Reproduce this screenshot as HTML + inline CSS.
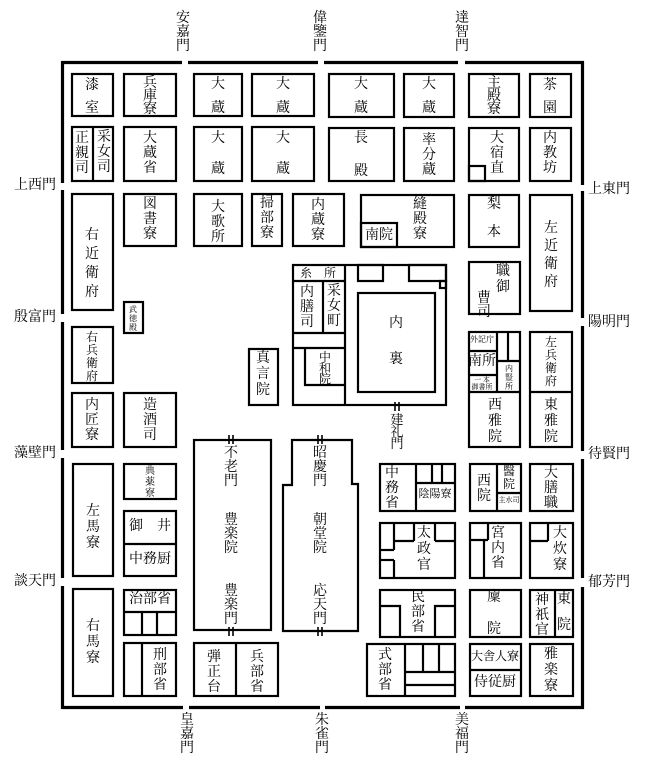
<!DOCTYPE html>
<html><head><meta charset="utf-8"><style>
html,body{margin:0;padding:0;background:#fff;}
body{width:647px;height:773px;position:relative;overflow:hidden;font-family:"Liberation Serif","Noto Serif CJK SC","Noto Sans CJK JP",serif;color:#000;}
svg{position:absolute;left:0;top:0;}
.v{position:absolute;width:24px;margin-left:-12px;text-align:center;font-size:14px;line-height:15px;}
.h{position:absolute;white-space:nowrap;transform:translateX(-50%);font-size:14px;line-height:14px;}
.g{position:absolute;white-space:nowrap;font-size:14px;line-height:14px;}
</style></head><body>
<svg width="647" height="773" viewBox="0 0 647 773">
<g stroke="#000" stroke-width="3.2" fill="none">
<line x1="62" y1="62.5" x2="182" y2="62.5"/><line x1="188" y1="62.5" x2="318" y2="62.5"/><line x1="324" y1="62.5" x2="458" y2="62.5"/><line x1="465" y1="62.5" x2="584" y2="62.5"/>
<line x1="62" y1="707.5" x2="183" y2="707.5"/><line x1="189" y1="707.5" x2="320" y2="707.5"/><line x1="325" y1="707.5" x2="460" y2="707.5"/><line x1="465" y1="707.5" x2="584" y2="707.5"/>
<line x1="62.5" y1="61" x2="62.5" y2="183"/><line x1="62.5" y1="190" x2="62.5" y2="314"/><line x1="62.5" y1="322" x2="62.5" y2="450"/><line x1="62.5" y1="458" x2="62.5" y2="578"/><line x1="62.5" y1="586" x2="62.5" y2="709"/>
<line x1="582.5" y1="61" x2="582.5" y2="185"/><line x1="582.5" y1="191" x2="582.5" y2="318"/><line x1="582.5" y1="326" x2="582.5" y2="451"/><line x1="582.5" y1="459" x2="582.5" y2="578"/><line x1="582.5" y1="587" x2="582.5" y2="709"/>
</g>
<g stroke="#000" stroke-width="2.2" fill="none">
<rect x="72" y="74" width="41" height="42"/><rect x="124" y="74" width="52" height="42"/><rect x="194" y="74" width="48" height="42"/><rect x="252" y="74" width="62" height="42"/><rect x="329" y="74" width="65" height="43"/><rect x="404" y="74" width="50" height="43"/><rect x="469" y="74" width="50" height="43"/><rect x="530" y="74" width="41" height="43"/>
<rect x="72" y="127" width="41" height="54"/><line x1="93" y1="127" x2="93" y2="181"/>
<rect x="124" y="127" width="52" height="54"/><rect x="194" y="127" width="48" height="54"/><rect x="252" y="127" width="62" height="54"/><rect x="329" y="128" width="65" height="53"/><rect x="404" y="128" width="50" height="53"/><rect x="469" y="128" width="50" height="53"/><rect x="469" y="166" width="16" height="15"/><rect x="530" y="128" width="41" height="53"/>
<rect x="72" y="194" width="41" height="116"/><rect x="124" y="194" width="52" height="52"/><rect x="194" y="194" width="48" height="52"/><rect x="252" y="194" width="30" height="52"/><rect x="293" y="194" width="51" height="52"/>
<rect x="361" y="195" width="93" height="52"/><rect x="361" y="223" width="36" height="24"/><rect x="469" y="195" width="50" height="52"/><rect x="530" y="195" width="42" height="116"/>
<rect x="124" y="302" width="19" height="31"/><rect x="72" y="327" width="41" height="56"/><rect x="72" y="393" width="41" height="54"/><rect x="124" y="393" width="52" height="54"/>
<rect x="293" y="265" width="153" height="140"/><line x1="345" y1="265" x2="345" y2="405"/><line x1="293" y1="281" x2="345" y2="281"/><line x1="293" y1="333" x2="345" y2="333"/><line x1="323" y1="281" x2="323" y2="333"/><line x1="293" y1="348" x2="345" y2="348"/><polyline points="305,348 305,385 345,385"/>
<rect x="358" y="265" width="25" height="16"/><rect x="409" y="265" width="37" height="16"/><rect x="440" y="281" width="6" height="7"/><rect x="358" y="293" width="77" height="99"/>
<rect x="249" y="349" width="29" height="56"/>
<rect x="469" y="262" width="51" height="52"/>
<rect x="469" y="332" width="51" height="115"/><line x1="497" y1="332" x2="497" y2="392"/><line x1="508" y1="332" x2="508" y2="361"/><line x1="497" y1="361" x2="520" y2="361"/><line x1="469" y1="351" x2="497" y2="351"/><line x1="469" y1="375" x2="497" y2="375"/><line x1="469" y1="392" x2="520" y2="392"/>
<rect x="530" y="332" width="42" height="115"/><line x1="530" y1="392" x2="572" y2="392"/>
<rect x="73" y="464" width="40" height="112"/><rect x="73" y="589" width="40" height="107"/>
<rect x="124" y="464" width="52" height="35"/><rect x="124" y="511" width="52" height="65"/><line x1="124" y1="544" x2="176" y2="544"/>
<rect x="124" y="590" width="52" height="45"/><line x1="124" y1="612" x2="176" y2="612"/><line x1="142" y1="612" x2="142" y2="635"/><line x1="157" y1="612" x2="157" y2="635"/>
<rect x="124" y="643" width="52" height="53"/><line x1="142" y1="643" x2="142" y2="696"/>
<rect x="194" y="440" width="77" height="190"/>
<path d="M292 440 L352 440 L352 484 L358 484 L358 631 L283 631 L283 485 L292 485 Z"/>
<rect x="194" y="643" width="84" height="53"/><line x1="236" y1="643" x2="236" y2="696"/>
<rect x="380" y="464" width="75" height="47"/><line x1="416" y1="464" x2="416" y2="511"/><line x1="416" y1="483" x2="455" y2="483"/><line x1="432" y1="464" x2="432" y2="483"/><line x1="442" y1="464" x2="442" y2="483"/>
<rect x="470" y="464" width="51" height="47"/><line x1="497" y1="464" x2="497" y2="511"/><line x1="497" y1="493" x2="521" y2="493"/>
<rect x="530" y="464" width="43" height="47"/>
<rect x="380" y="523" width="75" height="55"/><line x1="394" y1="523" x2="394" y2="550"/><line x1="380" y1="550" x2="394" y2="550"/><line x1="380" y1="560" x2="394" y2="560"/><line x1="394" y1="560" x2="394" y2="578"/><line x1="414" y1="523" x2="414" y2="541"/><line x1="394" y1="541" x2="414" y2="541"/><line x1="435" y1="523" x2="435" y2="541"/><line x1="435" y1="541" x2="455" y2="541"/>
<rect x="470" y="523" width="51" height="55"/><line x1="488" y1="523" x2="488" y2="540"/><line x1="470" y1="540" x2="488" y2="540"/><line x1="484" y1="540" x2="484" y2="578"/>
<rect x="530" y="523" width="43" height="55"/><line x1="548" y1="523" x2="548" y2="541"/><line x1="530" y1="541" x2="548" y2="541"/>
<rect x="380" y="590" width="75" height="47"/><polyline points="380,606 400,606 400,637"/><polyline points="455,606 435,606 435,637"/>
<rect x="470" y="590" width="51" height="47"/>
<rect x="530" y="590" width="43" height="47"/><line x1="555" y1="590" x2="555" y2="637"/>
<rect x="367" y="644" width="88" height="52"/><line x1="405" y1="644" x2="405" y2="696"/><line x1="423" y1="644" x2="423" y2="672"/><line x1="439" y1="644" x2="439" y2="672"/><line x1="405" y1="672" x2="455" y2="672"/><line x1="405" y1="685" x2="455" y2="685"/>
<rect x="470" y="644" width="51" height="52"/><line x1="470" y1="670" x2="521" y2="670"/>
<rect x="530" y="644" width="43" height="52"/>
</g>
<g stroke="#000" stroke-width="1.6">
<line x1="229" y1="435" x2="229" y2="444"/><line x1="233" y1="435" x2="233" y2="444"/>
<line x1="229" y1="627" x2="229" y2="636"/><line x1="233" y1="627" x2="233" y2="636"/>
<line x1="318" y1="435" x2="318" y2="444"/><line x1="322" y1="435" x2="322" y2="444"/>
<line x1="318" y1="627" x2="318" y2="636"/><line x1="322" y1="627" x2="322" y2="636"/>
<line x1="395" y1="402" x2="395" y2="411"/><line x1="399" y1="402" x2="399" y2="411"/>
</g>
</svg>

<div class="v" style="left:183px;top:12px;line-height:14px">安<br>嘉<br>門</div>
<div class="v" style="left:320px;top:12px;line-height:14px">偉<br>鑒<br>門</div>
<div class="v" style="left:462px;top:12px;line-height:14px">達<br>智<br>門</div>
<div class="v" style="left:187px;top:714px;line-height:14px">皇<br>嘉<br>門</div>
<div class="v" style="left:322px;top:714px;line-height:14px">朱<br>雀<br>門</div>
<div class="v" style="left:462px;top:714px;line-height:14px">美<br>福<br>門</div>
<div class="g" style="left:14px;top:179px">上西門</div>
<div class="g" style="left:14px;top:311px">殷富門</div>
<div class="g" style="left:14px;top:447px">藻壁門</div>
<div class="g" style="left:14px;top:575px">談天門</div>
<div class="g" style="left:588px;top:183px">上東門</div>
<div class="g" style="left:588px;top:316px">陽明門</div>
<div class="g" style="left:588px;top:448px">待賢門</div>
<div class="g" style="left:588px;top:576px">郁芳門</div>

<div class="v" style="left:92px;top:74px;line-height:23px">漆<br>室</div>
<div class="v" style="left:150px;top:77px;line-height:13px">兵<br>庫<br>寮</div>
<div class="v" style="left:218px;top:73px;line-height:24px">大<br>蔵</div>
<div class="v" style="left:283px;top:73px;line-height:24px">大<br>蔵</div>
<div class="v" style="left:361px;top:73px;line-height:24px">大<br>蔵</div>
<div class="v" style="left:429px;top:73px;line-height:24px">大<br>蔵</div>
<div class="v" style="left:494px;top:77px;line-height:13px">主<br>殿<br>寮</div>
<div class="v" style="left:550px;top:74px;line-height:23px">茶<br>園</div>

<div class="v" style="left:82px;top:131px">正<br>親<br>司</div>
<div class="v" style="left:104px;top:130px">采<br>女<br>司</div>
<div class="v" style="left:150px;top:131px">大<br>蔵<br>省</div>
<div class="v" style="left:218px;top:123px;line-height:31px">大<br>蔵</div>
<div class="v" style="left:283px;top:123px;line-height:31px">大<br>蔵</div>
<div class="v" style="left:361px;top:122px;line-height:33px">長<br>殿</div>
<div class="v" style="left:429px;top:133px">率<br>分<br>蔵</div>
<div class="v" style="left:497px;top:131px">大<br>宿<br>直</div>
<div class="v" style="left:550px;top:131px">内<br>教<br>坊</div>

<div class="v" style="left:92px;top:226px;line-height:19px">右<br>近<br>衛<br>府</div>
<div class="v" style="left:150px;top:197px">図<br>書<br>寮</div>
<div class="v" style="left:218px;top:200px">大<br>歌<br>所</div>
<div class="v" style="left:267px;top:196px">掃<br>部<br>寮</div>
<div class="v" style="left:318px;top:198px">内<br>蔵<br>寮</div>
<div class="v" style="left:420px;top:197px">縫<br>殿<br>寮</div>
<div class="h" style="left:379px;top:229px">南院</div>
<div class="v" style="left:494px;top:191px;line-height:28px">梨<br>本</div>
<div class="v" style="left:551px;top:220px;line-height:18px">左<br>近<br>衛<br>府</div>
<div class="v" style="left:503px;top:264px;line-height:16px">職<br>御</div>
<div class="v" style="left:484px;top:292px;line-height:14px">曹<br>司</div>

<div class="h" style="left:318px;top:267px;font-size:12px;line-height:12px">糸　所</div>
<div class="v" style="left:307px;top:285px">内<br>膳<br>司</div>
<div class="v" style="left:334px;top:284px">采<br>女<br>町</div>
<div class="v" style="left:325px;top:352px;font-size:12px;line-height:11px">中<br>和<br>院</div>
<div class="v" style="left:396px;top:306px;line-height:36px">内<br>裏</div>
<div class="v" style="left:263px;top:351px;line-height:16px">真<br>言<br>院</div>
<div class="v" style="left:133px;top:305px;font-size:8px;line-height:9px">武<br>徳<br>殿</div>
<div class="v" style="left:92px;top:331px;font-size:12px;line-height:13px">右<br>兵<br>衛<br>府</div>
<div class="v" style="left:92px;top:398px">内<br>匠<br>寮</div>
<div class="v" style="left:150px;top:398px">造<br>酒<br>司</div>
<div class="h" style="left:482px;top:336px;font-size:8px;line-height:8px">外記庁</div>
<div class="h" style="left:482px;top:355px">南所</div>
<div class="h" style="left:482px;top:377px;font-size:7px;line-height:7px">一 本</div>
<div class="h" style="left:482px;top:384px;font-size:7px;line-height:7px">御書所</div>
<div class="v" style="left:509px;top:364px;font-size:8px;line-height:9px">内<br>豎<br>所</div>
<div class="v" style="left:495px;top:398px;line-height:16px">西<br>雅<br>院</div>
<div class="v" style="left:551px;top:336px;font-size:12px;line-height:13px">左<br>兵<br>衛<br>府</div>
<div class="v" style="left:551px;top:398px;line-height:16px">東<br>雅<br>院</div>
<div class="v" style="left:397px;top:414px;font-size:13px;line-height:12px">建<br>礼<br>門</div>

<div class="v" style="left:150px;top:466px;font-size:10px;line-height:11px">典<br>薬<br>寮</div>
<div class="h" style="left:150px;top:520px">御　井</div>
<div class="h" style="left:150px;top:553px">中務厨</div>
<div class="h" style="left:150px;top:593px">治部省</div>
<div class="v" style="left:160px;top:648px">刑<br>部<br>省</div>
<div class="v" style="left:93px;top:504px;line-height:16px">左<br>馬<br>寮</div>
<div class="v" style="left:93px;top:619px;line-height:16px">右<br>馬<br>寮</div>
<div class="v" style="left:231px;top:447px;line-height:14px">不<br>老<br>門</div>
<div class="v" style="left:231px;top:514px;line-height:14px">豊<br>楽<br>院</div>
<div class="v" style="left:231px;top:585px;line-height:14px">豊<br>楽<br>門</div>
<div class="v" style="left:320px;top:447px;line-height:14px">昭<br>慶<br>門</div>
<div class="v" style="left:320px;top:514px;line-height:14px">朝<br>堂<br>院</div>
<div class="v" style="left:320px;top:585px;line-height:14px">応<br>天<br>門</div>
<div class="v" style="left:214px;top:650px">弾<br>正<br>台</div>
<div class="v" style="left:257px;top:650px">兵<br>部<br>省</div>

<div class="v" style="left:392px;top:466px">中<br>務<br>省</div>
<div class="h" style="left:435px;top:489px;font-size:11px;line-height:11px">陰陽寮</div>
<div class="v" style="left:484px;top:474px">西<br>院</div>
<div class="v" style="left:509px;top:465px;font-size:12px;line-height:13px">醫<br>院</div>
<div class="h" style="left:509px;top:497px;font-size:7px;line-height:7px">主水司</div>
<div class="v" style="left:551px;top:466px">大<br>膳<br>職</div>
<div class="v" style="left:424px;top:526px;line-height:16px">太<br>政<br>官</div>
<div class="v" style="left:498px;top:526px">宮<br>内<br>省</div>
<div class="v" style="left:560px;top:526px;line-height:16px">大<br>炊<br>寮</div>
<div class="v" style="left:418px;top:590px">民<br>部<br>省</div>
<div class="v" style="left:494px;top:582px;line-height:32px">廩<br>院</div>
<div class="v" style="left:542px;top:593px">神<br>祇<br>官</div>
<div class="v" style="left:564px;top:587px;line-height:26px">東<br>院</div>
<div class="v" style="left:385px;top:648px">式<br>部<br>省</div>
<div class="h" style="left:495px;top:650px;font-size:12px;line-height:12px">大舎人寮</div>
<div class="h" style="left:495px;top:676px">侍従厨</div>
<div class="v" style="left:551px;top:647px;line-height:16px">雅<br>楽<br>寮</div>
</body></html>
